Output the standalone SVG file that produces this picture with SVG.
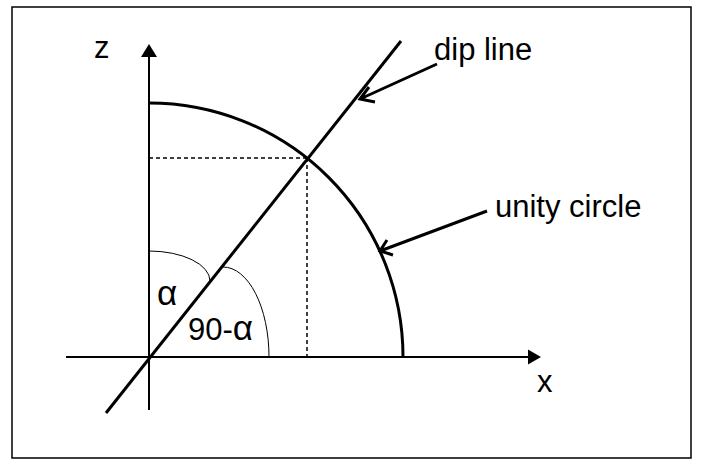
<svg xmlns="http://www.w3.org/2000/svg" width="709" height="476" viewBox="0 0 709 476">
<style>
  text { font-family: "Liberation Sans", Arial, sans-serif; font-size: 31px; fill: #000; }
  .greek { font-size: 35px; }
  .ax { stroke: #000; stroke-width: 2; fill: none; }
  .thick { stroke: #000; stroke-width: 3; fill: none; }
  .thin { stroke: #000; stroke-width: 1; fill: none; }
  .dash { stroke: #000; stroke-width: 1.5; stroke-dasharray: 4 3; fill: none; }
</style>
<rect x="0" y="0" width="709" height="476" fill="#fff"/>
<rect id="frame" x="12" y="7" width="679" height="451" fill="none" stroke="#000" stroke-width="1.5"/>
<g id="connectors">
  <line class="ax" x1="149" y1="410" x2="149" y2="55"/>
  <polygon points="149,44 141,57 157,57" fill="#000"/>
  <line class="ax" x1="66" y1="357" x2="529" y2="357"/>
  <polygon points="541,357 528,349.5 528,364.5" fill="#000"/>
  <line class="thick" x1="106" y1="413" x2="401" y2="41"/>
  <path class="thick" d="M149,103 A254,254 0 0 1 403,357"/>
  <line class="dash" x1="149" y1="158" x2="307" y2="158"/>
  <line class="dash" x1="307" y1="158" x2="307" y2="357"/>
  <path class="thin" d="M149,251 A61,30 0 0 1 210,281"/>
  <path class="thin" d="M223,267 A46,90 0 0 1 269,357"/>
  <path class="thick" d="M437,64 L360,99 M369,87 L360,99 L375,102"/>
  <path class="thick" d="M487,211 L380,251 M387,240 L380,251 L393,255"/>
</g>
<g id="labels">
  <text x="94" y="58">z</text>
  <text x="537" y="392">x</text>
  <text x="434" y="60">dip line</text>
  <text x="495" y="217">unity circle</text>
  <text x="157" y="305"><tspan class="greek">α</tspan></text>
  <text x="188" y="340">90-<tspan class="greek">α</tspan></text>
</g>
</svg>
